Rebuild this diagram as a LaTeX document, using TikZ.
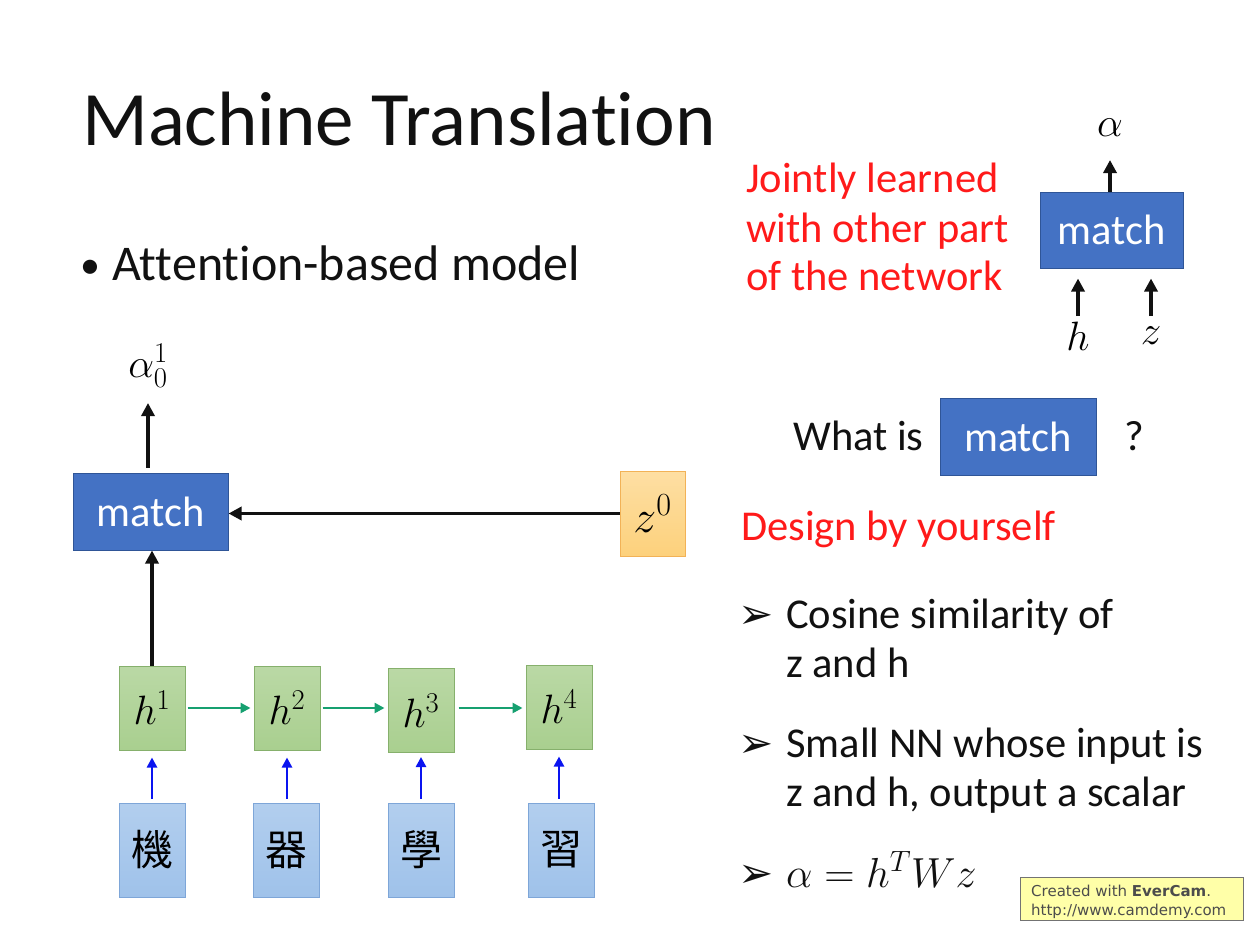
\documentclass[tikz,border=0pt]{standalone}
\usepackage{fix-cm}
\usepackage{fontspec}
\setmainfont{Carlito}[Ligatures=NoCommon]
\newfontfamily\cjkfont{Noto Sans CJK TC}
\newfontfamily\symfont{DejaVu Sans}
\definecolor{mtink}{HTML}{111111}
\definecolor{mtred}{HTML}{FF1A1A}
\definecolor{mtblue}{HTML}{4472C4}
\definecolor{mtblueedge}{HTML}{2F5597}
\definecolor{mtgreen}{HTML}{A9CF8F}
\definecolor{mtgreenedge}{HTML}{86B06C}
\definecolor{mtorange}{HTML}{FDD17C}
\definecolor{mtorangeedge}{HTML}{F2B257}
\definecolor{mtword}{HTML}{9FC2EA}
\definecolor{mtwordedge}{HTML}{7EA6D8}
\definecolor{mtrnn}{HTML}{16A070}
\definecolor{mtinput}{HTML}{0A14F0}
\definecolor{mtstamp}{HTML}{FFFFA8}
\usetikzlibrary{positioning, arrows.meta, calc}

\tikzset{
  big/.style={font=\fontsize{42.5}{50}\selectfont},
  mathbig/.style={font=\fontsize{41}{48}\selectfont},
  matchbox/.style={fill=mtblue, draw=mtblueedge, line width=1pt, text=white, big,
    minimum width=155, minimum height=77, inner sep=0},
  hbox/.style={top color=mtgreen!80!white, bottom color=mtgreen, draw=mtgreenedge,
    line width=1pt, mathbig, minimum width=66, minimum height=84, inner sep=0},
  wordbox/.style={top color=mtword!80!white, bottom color=mtword, draw=mtwordedge,
    line width=1pt, font=\cjkfont\fontsize{42}{48}\selectfont,
    minimum width=66, minimum height=94, inner sep=0},
  zbox/.style={top color=mtorange!70!white, bottom color=mtorange, draw=mtorangeedge,
    line width=1pt, font=\fontsize{46}{52}\selectfont,
    minimum width=65, minimum height=85, inner sep=0},
  arr/.style={-{Triangle[length=13pt, width=13pt]}, line width=3.5pt, mtink},
  rnnarr/.style={-{Triangle[length=10pt, width=10pt]}, line width=2.6pt, mtrnn},
  inarr/.style={-{Triangle[length=10pt, width=10pt]}, line width=2.6pt, mtinput},
  linetext/.style={anchor=base west, inner sep=0, big, text=mtink},
  redtext/.style={linetext, text=mtred},
  tipbullet/.style={anchor=base west, inner sep=0, text=mtink,
    font=\symfont\fontsize{42}{48}\selectfont}
}

\begin{document}
\begin{tikzpicture}[x=1pt, y=-1pt]
  \useasboundingbox[fill=white] (0,0) rectangle (1249,926);

  % title and bullet
  \node[anchor=base west, inner sep=0, text=mtink, font=\fontsize{77}{90}\selectfont]
    (title) at (82,145) {Machine Translation};
  \node[anchor=base west, inner sep=0, text=mtink, font=\fontsize{40}{48}\selectfont]
    (dot) at (80,278) {\textbullet};
  \node[anchor=base west, inner sep=0, text=mtink, font=\fontsize{50}{60}\selectfont]
    (bullet) at (112,280) {Attention-based model};

  % left network
  \node[matchbox] (match) at (150.5,511.5) {match};
  \node[inner sep=0, mathbig] (alpha01) at (148,366) {$\alpha_0^1$};
  \node[zbox] (z0) at (652.5,513.5) {$z^0$};

  \node[hbox] (h1) at (152,708) {$h^1$};
  \node[hbox] (h2) at (287,708) {$h^2$};
  \node[hbox] (h3) at (421,710.5) {$h^3$};
  \node[hbox] (h4) at (559,707) {$h^4$};

  \node[wordbox] (w1) at (152,850) {機};
  \node[wordbox] (w2) at (286.5,850) {器};
  \node[wordbox] (w3) at (421,850) {學};
  \node[wordbox] (w4) at (561,850) {習};

  \draw[arr, shorten <=5pt] (alpha01 |- match.north) -- (alpha01 |- 0,403);
  \draw[arr] (h1.north) -- (h1.north |- match.south);
  \draw[arr] (z0.west) -- (z0.west -| match.east);

  \draw[rnnarr, shorten <=2pt, shorten >=3pt] (h1.east) -- (h1.east -| h2.west);
  \draw[rnnarr, shorten <=2pt, shorten >=3pt] (h2.east) -- (h2.east -| h3.west);
  \draw[rnnarr, shorten <=4pt, shorten >=3pt] (h3.east |- h2.east) -- (h2.east -| h4.west);

  \draw[inarr, shorten <=4pt, shorten >=7pt] (w1.north) -- (h1.south);
  \draw[inarr, shorten <=4pt, shorten >=7pt] (w2.north -| h2.south) -- (h2.south);
  \draw[inarr, shorten <=4pt, shorten >=4pt] (w3.north) -- (h3.south);
  \draw[inarr, shorten <=4pt, shorten >=7pt] (h4.south |- w4.north) -- (h4.south);

  % right: the match block
  \node[redtext] (joint1) at (746,192) {Jointly learned};
  \node[redtext] (joint2) at (746,242) {with other part};
  \node[redtext] (joint3) at (746,290) {of the network};

  \node[matchbox, minimum width=143, minimum height=76] (smatch) at (1111.5,230) {match};
  \node[inner sep=0, mathbig] (alpha) at (1110,128) {$\alpha$};
  \node[inner sep=0, mathbig] (hin) at (1078,336) {$h$};
  \node[inner sep=0, mathbig] (zin) at (1151,336) {$z$};
  \draw[arr] (smatch.north -| alpha) -- (alpha |- 0,160);
  \draw[arr, shorten >=10pt] (hin |- 0,316) -- (hin |- smatch.south);
  \draw[arr, shorten >=10pt] (zin |- 0,316) -- (zin |- smatch.south);

  \node[linetext] (whatis) at (793,450) {What is};
  \node[matchbox, minimum width=156] (qmatch) at (1018,436.5) {match};
  \node[linetext] (qmark) at (1124,450) {?};

  \node[redtext] (design) at (741,540) {Design by yourself};

  % ways to design it
  \node[tipbullet] (b1) at (738,628) {➢};
  \node[linetext] (cos1) at (786,628) {Cosine similarity of};
  \node[linetext] (cos2) at (786,677) {z and h};
  \node[tipbullet] (b2) at (738,757) {➢};
  \node[linetext] (nn1) at (786,757) {Small NN whose input is};
  \node[linetext] (nn2) at (786,806) {z and h, output a scalar};
  \node[tipbullet] (b3) at (738,887) {➢};
  \node[linetext, font=\fontsize{42}{48}\selectfont] (bilin) at (786,887) {$\alpha = h^T W z$};

  % recorder stamp
  \node[draw=black!55, fill=mtstamp, line width=0.8pt, minimum width=223, minimum height=43,
    inner sep=0] (stamp) at (1131.5,898.5) {};
  \node[anchor=base west, inner sep=0, text=black!70, font=\symfont\fontsize{15}{17}\selectfont]
    (stamp1) at (1031,896) {Created with \textbf{EverCam}.};
  \node[anchor=base west, inner sep=0, text=black!70, font=\symfont\fontsize{15}{17}\selectfont]
    (stamp2) at (1031,915) {http://www.camdemy.com};
\end{tikzpicture}
\end{document}
